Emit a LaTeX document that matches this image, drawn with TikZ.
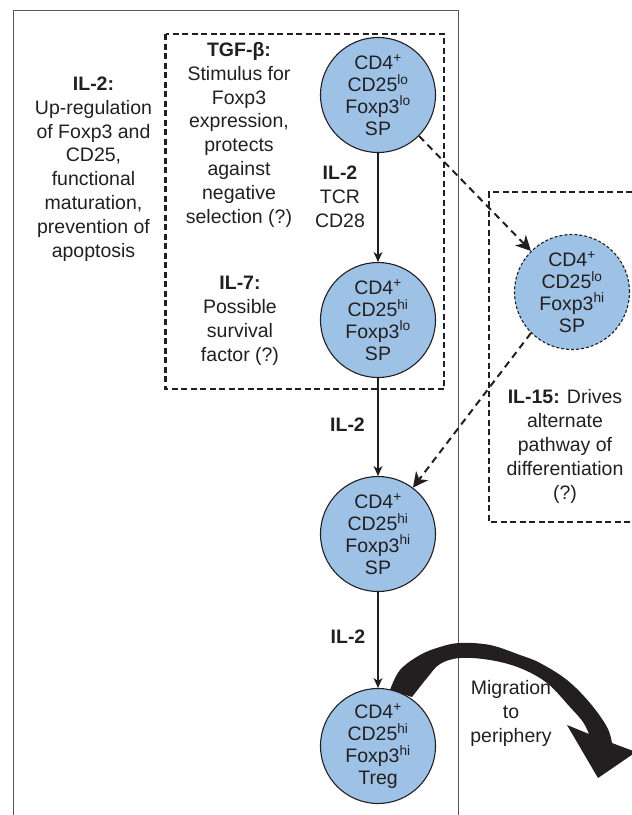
\documentclass[tikz,border=0pt]{standalone}
\usepackage{fontspec}
\setmainfont{Liberation Sans}
\usetikzlibrary{arrows.meta}
\definecolor{cellblue}{RGB}{157,194,230}
\definecolor{ink}{RGB}{35,31,32}
\newcommand{\sups}[1]{\textsuperscript{#1}}
\begin{document}
\begin{tikzpicture}[x=1pt,y=-1pt,
  cell/.style={circle, draw=ink, line width=1.1pt, fill=cellblue, minimum size=115pt, inner sep=0pt, align=center, text=ink, font=\fontsize{19.5}{21.8}\selectfont},
  dcell/.style={cell, dash pattern=on 3pt off 2pt},
  lbl/.style={align=center, inner sep=0pt, anchor=base, text=ink, font=\fontsize{19.5}{23.8}\selectfont},
  flow/.style={draw=ink, line width=1.2pt, -{Stealth[length=10pt,width=9pt,inset=3pt]}},
  dflow/.style={draw=ink, line width=2pt, dash pattern=on 7pt off 5pt, -{Stealth[length=15pt,width=15pt,inset=4.5pt]}},
  region/.style={draw=ink, line width=2.4pt, dash pattern=on 6pt off 3.5pt},
  frame/.style={draw=ink!75, line width=1pt}]
\useasboundingbox (0,0) rectangle (632,815);
% outer frame (open at bottom)
\draw[frame] (13.5,815) -- (13.5,10) -- (458.5,10) -- (458.5,815);
% dashed regions
\draw[region] (165.5,34) rectangle (444,389);
\draw[region] (632,192) -- (489,192) -- (489,522) -- (632,522);
% migration arrow
\fill[ink] plot[smooth, tension=0.6] coordinates {(390,690) (400,670) (420,655) (440,647) (460,643) (490,645) (520,655) (540,663) (567,680) (590,703) (607,727) (612,743)}
  -- (636,752) -- (598,778) -- (567,725)
  -- plot[smooth, tension=0.6] coordinates {(589,734) (583,722) (570,707) (547,683) (520,668) (490,660) (460,658) (440,664) (427,678) (412,697)} -- cycle;
% cells
\node[cell] (c1) at (378,95) {CD4\sups{+}\\CD25\sups{lo}\\Foxp3\sups{lo}\\SP};
\node[cell] (c2) at (378,320) {CD4\sups{+}\\CD25\sups{hi}\\Foxp3\sups{lo}\\SP};
\node[dcell] (c3) at (572,292) {CD4\sups{+}\\CD25\sups{lo}\\Foxp3\sups{hi}\\SP};
\node[cell] (c4) at (378,534) {CD4\sups{+}\\CD25\sups{hi}\\Foxp3\sups{hi}\\SP};
\node[cell] (c5) at (378,746) {CD4\sups{+}\\CD25\sups{hi}\\Foxp3\sups{hi}\\Treg};
% connectors
\draw[flow] (c1) -- (c2);
\draw[flow] (c2) -- (c4);
\draw[flow] (c4) -- (c5);
\draw[dflow] (c1.-45) -- (c3.135);
\draw[dflow] (c3.225) -- (c4.53);
% labels (anchor = baseline of last line)
\node[lbl] (t1) at (93.5,257) {\textbf{IL-2:}\\Up-regulation\\of Foxp3 and\\CD25,\\functional\\maturation,\\prevention of\\apoptosis};
\node[lbl] (t2) at (239,223) {\textbf{TGF-β:}\\Stimulus for\\Foxp3\\expression,\\protects\\against\\negative\\selection (?)};
\node[lbl] (t3) at (240,361) {\textbf{IL-7:}\\Possible\\survival\\factor (?)};
\node[lbl] (t4) at (340,227) {\textbf{IL-2}\\TCR\\CD28};
\node[lbl] (t5) at (347.5,431) {\textbf{IL-2}};
\node[lbl] (t6) at (348,643) {\textbf{IL-2}};
\node[lbl] (t7) at (565,499) {\textbf{IL-15:} Drives\\alternate\\pathway of\\differentiation\\(?)};
\node[lbl] (t8) at (511,742) {Migration\\to\\periphery};
\end{tikzpicture}
\end{document}
